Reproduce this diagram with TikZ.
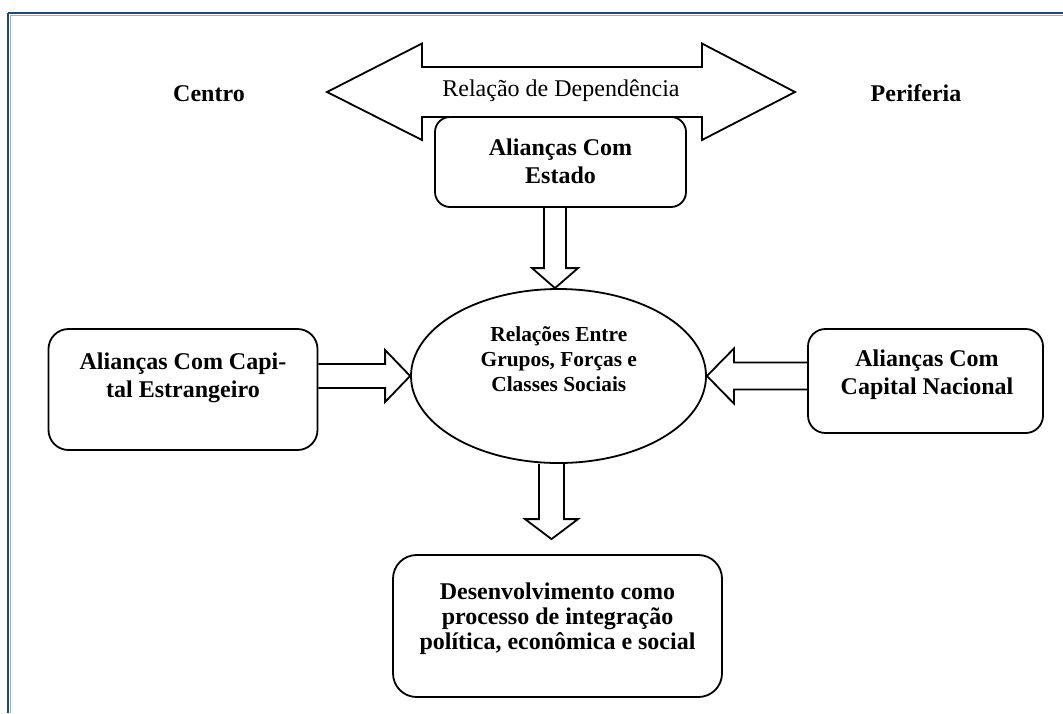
\documentclass[tikz,border=0pt]{standalone}
\usepackage{fontspec}
\setmainfont{Liberation Serif}
\usetikzlibrary{calc,shapes.geometric}
\definecolor{frameblue}{RGB}{31,73,125}
\definecolor{framelight}{RGB}{141,179,226}

% block arrow from #1 to the tip #2: shaft half width #3, head half width #4, head length #5
\newcommand\blockarrow[5]{%
  \coordinate (ba-b) at ($(#2)!#5!(#1)$);
  \draw[arrowline] ($(#1)!#3!90:(#2)$) -- ($(ba-b)!#3!90:(#2)$) -- ($(ba-b)!#4!90:(#2)$)
    -- (#2) -- ($(ba-b)!#4!-90:(#2)$) -- ($(ba-b)!#3!-90:(#2)$) -- ($(#1)!#3!-90:(#2)$);
}

\begin{document}
\begin{tikzpicture}[x=0.5pt,y=-0.5pt,
  line width=0.9pt,
  boxbase/.style={draw=black, fill=white, rectangle, inner sep=0pt},
  arrowline/.style={draw=black, line join=miter},
  lbl/.style={font=\fontsize{12pt}{13.9pt}\selectfont\bfseries, align=center, inner sep=0pt},
  ellt/.style={font=\fontsize{10.7pt}{12.5pt}\selectfont\bfseries, align=center, inner sep=0pt},
  plain/.style={font=\fontsize{12pt}{13.9pt}\selectfont, inner sep=0pt}]
\useasboundingbox (0,0) rectangle (1063,713);

% page frame (top and left edges)
\draw[frameblue, line width=1.1pt] (8,13) -- (1063,13);
\draw[frameblue, line width=1.1pt] (8,13) -- (8,713);
\draw[framelight, line width=0.5pt] (10,15) -- (1063,15);
\draw[framelight, line width=0.5pt] (10,15) -- (10,713);

% double arrow: dependency between centre and periphery
\draw[arrowline] (327,92) -- (422,43.5) -- (422,67) -- (702,67) -- (702,43.5) -- (795,92)
  -- (702,140) -- (702,117) -- (422,117) -- (422,140) -- cycle;
\node[plain, anchor=base] (dep) at (561,96.7) {Relação de Dependência};
\node[lbl, anchor=base] (centro) at (209,101.7) {Centro};
\node[lbl, anchor=base] (periferia) at (916,101.7) {Periferia};

% boxes
\node[boxbase, rounded corners=7.5pt, minimum width=125.5pt, minimum height=45pt] (estado) at (560.5,162) {};
\node[boxbase, rounded corners=10pt, minimum width=134.5pt, minimum height=60.5pt] (ext) at (183,389.5) {};
\node[boxbase, rounded corners=8.7pt, minimum width=117.5pt, minimum height=52pt] (nac) at (925.5,381) {};
\node[boxbase, rounded corners=11.8pt, minimum width=164.5pt, minimum height=71pt] (des) at (557.5,626) {};
\node[draw=black, fill=white, ellipse, inner sep=0pt, minimum width=147.5pt, minimum height=87pt] (rel) at (558.5,376) {};

% texts
\node[lbl] (estado-t) at (560.5,161.6) {Alianças Com\\Estado};
\node[lbl] (ext-t) at (183,378) {Alianças Com Capi-\\tal Estrangeiro};
\node[lbl] (nac-t) at (927,374.7) {Alianças Com\\Capital Nacional};
\node[lbl, font=\fontsize{12pt}{12.5pt}\selectfont\bfseries] (des-t) at (557.5,618.6)
  {Desenvolvimento como\\processo de integração\\política, econômica e social};
\node[ellt] (rel-t) at (558.8,359.6) {Relações Entre\\Grupos, Forças e\\Classes Sociais};

% block arrows
\coordinate (ea-s) at ($(estado.south)+(-5.5,0)$);
\coordinate (ea-t) at (ea-s |- rel.north);
\blockarrow{ea-s}{ea-t}{5.5pt}{11.5pt}{10pt}
\coordinate (la-s) at (ext.east |- rel.west);
\blockarrow{la-s}{rel.west}{6pt}{13pt}{12.5pt}
\coordinate (ra-s) at (nac.west |- rel.east);
\blockarrow{ra-s}{rel.east}{6.75pt}{13.75pt}{13.5pt}
\coordinate (da-s) at ($(rel.south)+(-7,0)$);
\coordinate (da-t) at ($(da-s |- des.north)+(0,-15)$);
\blockarrow{da-s}{da-t}{6.25pt}{13.25pt}{10pt}
\end{tikzpicture}
\end{document}
